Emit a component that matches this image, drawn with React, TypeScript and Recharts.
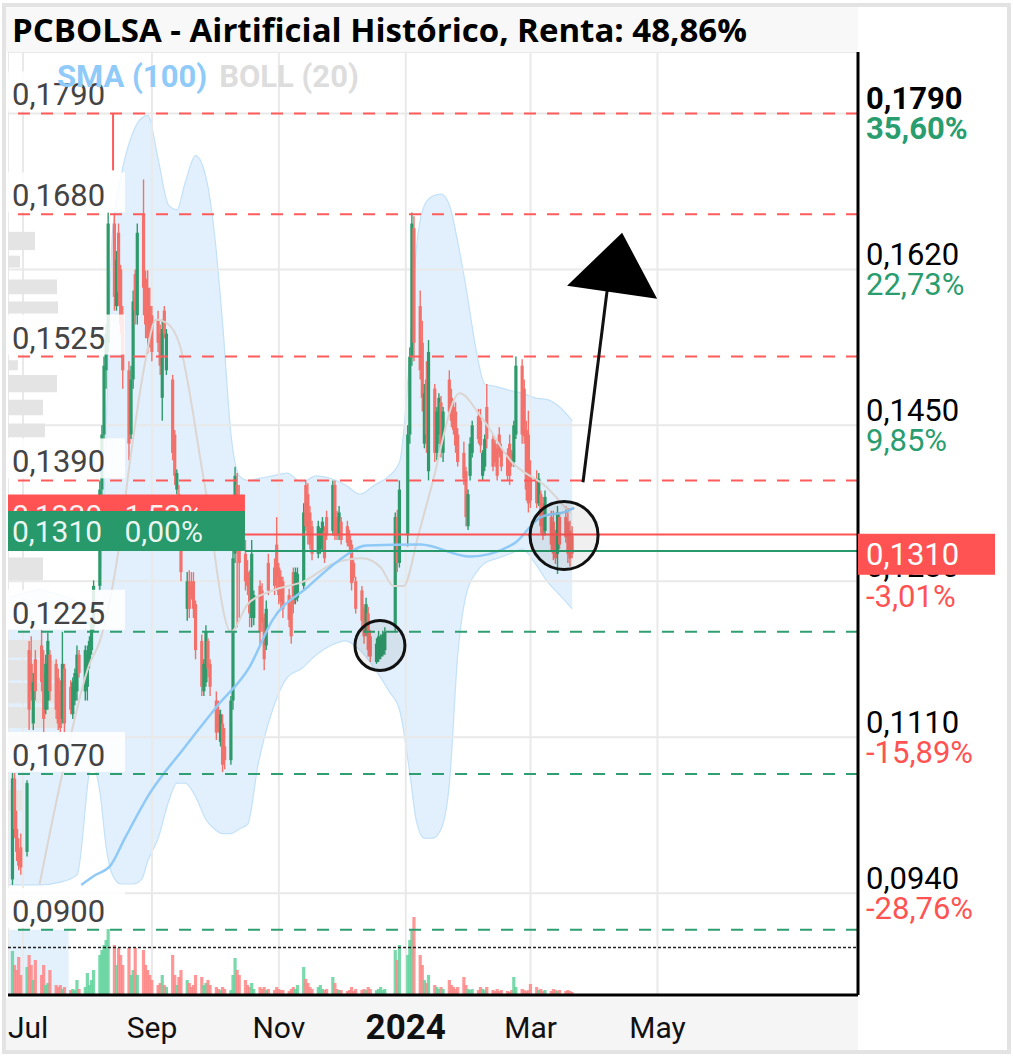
import React from 'react';
import {
  ComposedChart,
  Area,
  Line,
  Bar,
  XAxis,
  YAxis,
  CartesianGrid,
  ReferenceLine,
  ReferenceArea,
  ReferenceDot,
} from 'recharts';

type Candle = [number, number, number, number, number]; // open, high, low, close, volume (M)

const jun23: Candle[] = [
  [0.0955, 0.1071, 0.0949, 0.1065, 4.4],
  [0.1065, 0.1071, 0.1, 0.101, 3.0],
  [0.101, 0.103, 0.0975, 0.0985, 2.5],
  [0.0985, 0.1, 0.0965, 0.097, 3.8],
  [0.099, 0.1005, 0.096, 0.0968, 2.0],
];
const jul23: Candle[] = [
  [0.0985, 0.1063, 0.098, 0.106, 2.8],
  [0.1205, 0.1215, 0.1118, 0.114, 4.0],
  [0.119, 0.122, 0.115, 0.116, 3.0],
  [0.1125, 0.118, 0.1118, 0.117, 1.5],
  [0.1195, 0.1205, 0.115, 0.116, 3.5],
  [0.121, 0.1227, 0.116, 0.117, 2.0],
  [0.118, 0.1205, 0.1115, 0.113, 3.0],
  [0.114, 0.12, 0.1135, 0.119, 1.0],
  [0.115, 0.1224, 0.114, 0.1215, 1.2],
  [0.12, 0.1205, 0.115, 0.116, 2.5],
  [0.119, 0.1195, 0.113, 0.114, 1.0],
  [0.1175, 0.1185, 0.1118, 0.1125, 0.8],
  [0.116, 0.1172, 0.1115, 0.112, 1.0],
  [0.113, 0.1225, 0.1125, 0.119, 0.6],
  [0.1185, 0.119, 0.1115, 0.1125, 0.8],
  [0.1165, 0.1172, 0.1135, 0.114, 0.5],
  [0.1135, 0.1175, 0.113, 0.117, 0.6],
  [0.115, 0.1185, 0.1145, 0.118, 0.5],
  [0.116, 0.121, 0.115, 0.12, 1.5],
  [0.12, 0.1205, 0.1175, 0.118, 0.6],
  [0.116, 0.121, 0.115, 0.1205, 0.8],
];
const aug23: Candle[] = [
  [0.1165, 0.121, 0.115, 0.12, 2.2],
  [0.1195, 0.122, 0.1185, 0.1215, 1.0],
  [0.1205, 0.124, 0.12, 0.1235, 1.5],
  [0.123, 0.1281, 0.1225, 0.1275, 2.5],
  [0.1275, 0.139, 0.127, 0.138, 4.0],
  [0.138, 0.145, 0.137, 0.144, 4.5],
  [0.144, 0.1525, 0.1435, 0.1515, 5.0],
  [0.151, 0.156, 0.149, 0.155, 5.5],
  [0.154, 0.1682, 0.153, 0.167, 6.6],
  [0.167, 0.168, 0.1575, 0.159, 5.0],
  [0.158, 0.164, 0.1575, 0.163, 3.0],
  [0.166, 0.167, 0.158, 0.1595, 4.7],
  [0.162, 0.1625, 0.155, 0.156, 4.0],
  [0.157, 0.158, 0.149, 0.151, 3.0],
  [0.151, 0.152, 0.1412, 0.143, 4.7],
  [0.144, 0.1515, 0.1435, 0.15, 2.0],
  [0.15, 0.1597, 0.149, 0.1585, 2.5],
  [0.1615, 0.162, 0.156, 0.1575, 4.7],
  [0.157, 0.167, 0.156, 0.166, 2.0],
  [0.168, 0.1718, 0.157, 0.16, 4.5],
  [0.161, 0.1619, 0.1545, 0.156, 3.0],
  [0.16, 0.1619, 0.1528, 0.1545, 2.5],
  [0.158, 0.16, 0.1535, 0.1545, 2.0],
];
const sep23: Candle[] = [
  [0.157, 0.158, 0.152, 0.153, 1.5],
  [0.1565, 0.1575, 0.153, 0.154, 1.0],
  [0.155, 0.156, 0.1505, 0.1515, 1.2],
  [0.148, 0.1565, 0.1455, 0.1555, 2.0],
  [0.1575, 0.158, 0.1545, 0.155, 1.0],
  [0.151, 0.1555, 0.1505, 0.155, 0.8],
  [0.15, 0.1505, 0.1412, 0.142, 4.0],
  [0.144, 0.1445, 0.1385, 0.1395, 2.0],
  [0.138, 0.1402, 0.1375, 0.1398, 1.0],
  [0.1375, 0.1385, 0.132, 0.133, 1.8],
  [0.132, 0.1325, 0.128, 0.129, 2.5],
  [0.125, 0.129, 0.1237, 0.128, 1.5],
  [0.128, 0.1292, 0.124, 0.125, 1.2],
  [0.1275, 0.129, 0.126, 0.1265, 0.8],
  [0.128, 0.129, 0.124, 0.125, 1.0],
  [0.1255, 0.1259, 0.1195, 0.1205, 2.0],
  [0.1215, 0.1222, 0.1155, 0.1165, 1.8],
  [0.116, 0.1195, 0.1155, 0.119, 1.0],
  [0.117, 0.1232, 0.1165, 0.1225, 1.2],
  [0.1215, 0.1218, 0.1175, 0.1185, 1.5],
  [0.119, 0.1195, 0.1155, 0.1165, 1.0],
];
const oct23: Candle[] = [
  [0.115, 0.116, 0.1107, 0.1115, 0.8],
  [0.114, 0.115, 0.1115, 0.112, 0.6],
  [0.1105, 0.114, 0.11, 0.1135, 0.5],
  [0.1125, 0.1135, 0.1072, 0.108, 0.8],
  [0.11, 0.112, 0.1075, 0.1085, 0.6],
  [0.1085, 0.1155, 0.108, 0.115, 0.5],
  [0.115, 0.1314, 0.114, 0.1305, 2.0],
  [0.131, 0.1405, 0.13, 0.1395, 3.7],
  [0.1385, 0.1398, 0.123, 0.132, 2.5],
  [0.135, 0.1385, 0.124, 0.13, 2.0],
  [0.131, 0.1325, 0.127, 0.128, 1.5],
  [0.129, 0.1303, 0.1265, 0.1275, 1.0],
  [0.1285, 0.1292, 0.123, 0.1245, 0.8],
  [0.124, 0.1325, 0.123, 0.131, 1.2],
  [0.124, 0.127, 0.1232, 0.1265, 0.6],
  [0.1275, 0.1281, 0.121, 0.1225, 0.8],
  [0.127, 0.1278, 0.1225, 0.1235, 0.6],
  [0.124, 0.1245, 0.1183, 0.1195, 0.8],
  [0.121, 0.1259, 0.1205, 0.125, 0.5],
  [0.13, 0.131, 0.1265, 0.127, 0.6],
  [0.1295, 0.1305, 0.1265, 0.1275, 0.5],
  [0.132, 0.135, 0.127, 0.1285, 0.8],
];
const nov23: Candle[] = [
  [0.1295, 0.13, 0.1255, 0.1265, 0.6],
  [0.1285, 0.1292, 0.125, 0.1258, 0.5],
  [0.128, 0.1285, 0.124, 0.125, 0.5],
  [0.1265, 0.1272, 0.123, 0.1238, 0.4],
  [0.1255, 0.1259, 0.1212, 0.122, 0.6],
  [0.129, 0.1295, 0.1245, 0.1255, 0.8],
  [0.126, 0.1295, 0.1255, 0.129, 0.6],
  [0.1262, 0.1295, 0.1258, 0.1288, 1.0],
  [0.1275, 0.1365, 0.127, 0.1355, 2.8],
  [0.1385, 0.139, 0.1335, 0.134, 1.6],
  [0.1375, 0.1387, 0.132, 0.133, 1.2],
  [0.1355, 0.1362, 0.1315, 0.132, 0.8],
  [0.134, 0.1346, 0.1303, 0.131, 0.6],
  [0.131, 0.1346, 0.1305, 0.134, 0.8],
  [0.1315, 0.1338, 0.131, 0.1335, 1.0],
  [0.1315, 0.135, 0.1312, 0.1345, 0.6],
  [0.1335, 0.134, 0.13, 0.1305, 0.5],
  [0.135, 0.1357, 0.1325, 0.133, 0.6],
  [0.1335, 0.139, 0.133, 0.1385, 1.8],
  [0.1385, 0.139, 0.1325, 0.133, 1.2],
  [0.135, 0.1357, 0.1325, 0.133, 0.6],
  [0.133, 0.1362, 0.1325, 0.1355, 0.5],
];
const dec23: Candle[] = [
  [0.1345, 0.135, 0.132, 0.1325, 0.5],
  [0.134, 0.1346, 0.1318, 0.1322, 0.4],
  [0.133, 0.1336, 0.1312, 0.1318, 0.5],
  [0.132, 0.1325, 0.127, 0.1278, 0.8],
  [0.13, 0.1303, 0.128, 0.1284, 0.4],
  [0.128, 0.1285, 0.1245, 0.125, 0.6],
  [0.127, 0.1275, 0.123, 0.1237, 0.5],
  [0.125, 0.1255, 0.1212, 0.122, 0.6],
  [0.1225, 0.1262, 0.122, 0.1255, 0.5],
  [0.1245, 0.1252, 0.1198, 0.1205, 0.8],
  [0.122, 0.1227, 0.1192, 0.1198, 0.6],
  [0.1192, 0.1218, 0.119, 0.1212, 0.5],
  [0.1195, 0.1226, 0.1192, 0.122, 0.6],
  [0.1198, 0.1222, 0.1195, 0.1218, 0.8],
  [0.12, 0.1226, 0.1198, 0.1222, 0.5],
  [0.1205, 0.123, 0.12, 0.1225, 0.6],
  [0.123, 0.1355, 0.1225, 0.135, 4.5],
  [0.135, 0.1358, 0.129, 0.13, 3.5],
  [0.13, 0.139, 0.1295, 0.138, 5.0],
];
const jan24: Candle[] = [
  [0.133, 0.145, 0.1318, 0.144, 4.0],
  [0.144, 0.1535, 0.143, 0.1525, 5.5],
  [0.1525, 0.1682, 0.1515, 0.167, 6.5],
  [0.1665, 0.1678, 0.152, 0.154, 7.8],
  [0.158, 0.1597, 0.15, 0.151, 4.0],
  [0.154, 0.1564, 0.1465, 0.148, 3.0],
  [0.143, 0.1495, 0.1425, 0.1485, 1.5],
  [0.15, 0.152, 0.142, 0.144, 1.2],
  [0.14, 0.1543, 0.139, 0.153, 2.0],
  [0.149, 0.1495, 0.141, 0.142, 1.0],
  [0.142, 0.147, 0.1412, 0.1465, 0.8],
  [0.144, 0.1485, 0.143, 0.148, 0.6],
  [0.1475, 0.1482, 0.1415, 0.1422, 0.8],
  [0.142, 0.147, 0.141, 0.1465, 0.6],
  [0.15, 0.151, 0.146, 0.1465, 1.5],
  [0.148, 0.149, 0.1448, 0.1455, 1.0],
  [0.147, 0.1477, 0.144, 0.1445, 0.8],
  [0.1465, 0.1475, 0.142, 0.1428, 0.6],
  [0.144, 0.1447, 0.1405, 0.141, 0.8],
  [0.142, 0.1432, 0.1385, 0.1392, 1.8],
  [0.14, 0.1405, 0.134, 0.135, 1.0],
  [0.134, 0.138, 0.1336, 0.1375, 0.6],
];
const feb24: Candle[] = [
  [0.1395, 0.1437, 0.139, 0.143, 0.5],
  [0.142, 0.1455, 0.1415, 0.145, 0.6],
  [0.146, 0.1468, 0.143, 0.1435, 0.5],
  [0.1455, 0.1468, 0.142, 0.1428, 0.8],
  [0.1395, 0.1423, 0.139, 0.142, 0.6],
  [0.1405, 0.144, 0.14, 0.1435, 0.5],
  [0.147, 0.1495, 0.1425, 0.1435, 0.8],
  [0.1435, 0.144, 0.14, 0.1405, 0.5],
  [0.143, 0.1434, 0.1405, 0.141, 0.4],
  [0.1425, 0.143, 0.139, 0.1395, 0.6],
  [0.144, 0.1448, 0.1415, 0.142, 0.4],
  [0.1425, 0.143, 0.14, 0.1405, 0.5],
  [0.142, 0.1425, 0.139, 0.1395, 0.4],
  [0.143, 0.144, 0.1385, 0.1395, 0.3],
  [0.142, 0.1423, 0.1405, 0.141, 0.5],
  [0.141, 0.1455, 0.1405, 0.145, 1.8],
  [0.144, 0.1525, 0.1435, 0.1515, 0.8],
  [0.1515, 0.1522, 0.143, 0.144, 0.6],
  [0.149, 0.15, 0.143, 0.1438, 0.5],
  [0.1445, 0.1455, 0.1368, 0.138, 0.4],
  [0.144, 0.1466, 0.1355, 0.1365, 0.5],
];
const mar24: Candle[] = [
  [0.1395, 0.1412, 0.136, 0.1368, 1.1],
  [0.139, 0.1401, 0.136, 0.1365, 0.8],
  [0.1365, 0.1398, 0.1362, 0.1392, 0.5],
  [0.1375, 0.1379, 0.1332, 0.134, 0.6],
  [0.1365, 0.1372, 0.1325, 0.133, 0.4],
  [0.1335, 0.1379, 0.133, 0.1372, 0.5],
  [0.135, 0.1357, 0.1314, 0.132, 0.4],
  [0.1345, 0.1357, 0.1303, 0.131, 0.6],
  [0.133, 0.1336, 0.1299, 0.1305, 0.5],
  [0.131, 0.1362, 0.1288, 0.1355, 0.4],
  [0.135, 0.1355, 0.1315, 0.132, 0.5],
  [0.135, 0.1362, 0.1322, 0.1328, 0.4],
  [0.1345, 0.136, 0.13, 0.131, 0.5],
  [0.1335, 0.1346, 0.1296, 0.1305, 0.4],
  [0.133, 0.134, 0.1305, 0.131, 0.3],
];

// Bollinger (20): [day since 1 Jul 2023, upper, lower]
const bollBand: [number, number, number][] = [
  [-7, 0.1262, 0.0949], [8, 0.127, 0.0949], [18, 0.1265, 0.0952], [26, 0.1258, 0.096],
  [33, 0.125, 0.108], [37, 0.128, 0.105], [40, 0.145, 0.099], [43, 0.166, 0.096],
  [47, 0.172, 0.095], [53, 0.177, 0.095], [57, 0.1785, 0.0955], [60, 0.1788, 0.0975],
  [65, 0.174, 0.1], [70, 0.169, 0.104], [74, 0.1685, 0.106], [78, 0.1715, 0.106],
  [83, 0.1744, 0.1045], [88, 0.172, 0.102], [92, 0.166, 0.101], [96, 0.156, 0.1005],
  [100, 0.144, 0.1005], [104, 0.1395, 0.101], [108, 0.139, 0.1015], [113, 0.1392, 0.108],
  [120, 0.1395, 0.114], [127, 0.1398, 0.1175], [134, 0.1388, 0.1185], [141, 0.1395, 0.12],
  [148, 0.1392, 0.121], [155, 0.1385, 0.1215], [162, 0.1375, 0.1205], [169, 0.1385, 0.1185],
  [176, 0.1395, 0.116], [181, 0.141, 0.114], [186, 0.153, 0.107], [189, 0.164, 0.102],
  [193, 0.169, 0.1], [197, 0.17, 0.1], [201, 0.1702, 0.101], [205, 0.169, 0.106],
  [209, 0.165, 0.12], [213, 0.16, 0.1265], [218, 0.153, 0.129], [222, 0.1495, 0.13],
  [228, 0.1492, 0.1305], [234, 0.1488, 0.131], [240, 0.1485, 0.1315], [246, 0.148, 0.13],
  [252, 0.1478, 0.128], [258, 0.147, 0.1265], [264, 0.1455, 0.125],
];
const bollMid: [number, number][] = [
  [8, 0.095], [19, 0.1071], [32, 0.119], [37, 0.1215], [45, 0.13], [52, 0.142], [58, 0.151],
  [64, 0.1565], [70, 0.156], [75, 0.154], [87, 0.139], [100, 0.1225], [108, 0.1255],
  [120, 0.127], [135, 0.128], [150, 0.13], [163, 0.1305], [172, 0.1295], [178, 0.1275],
  [183, 0.1275], [190, 0.133], [196, 0.138], [210, 0.1485], [220, 0.146], [235, 0.141],
  [252, 0.1382], [263, 0.1354],
];
const sma100: [number, number][] = [
  [28, 0.0949], [35, 0.096], [42, 0.097], [49, 0.1], [61, 0.1049], [77, 0.1097], [93, 0.1143],
  [109, 0.1187], [120, 0.1238], [137, 0.1274], [152, 0.1303], [165, 0.1319], [191, 0.132],
  [215, 0.1307], [236, 0.1321], [249, 0.135], [261, 0.1356], [265, 0.136],
];

// volume by price on the left: [low, high, volume]
const profileBars: [number, number, number][] = [
  [0.1641, 0.1661, 27], [0.1622, 0.1635, 12], [0.1593, 0.1609, 49], [0.1572, 0.1585, 50],
  [0.151, 0.1521, 10], [0.1486, 0.1505, 49], [0.1461, 0.1478, 35], [0.1437, 0.1452, 37],
  [0.1281, 0.1306, 35], [0.1197, 0.1216, 34], [0.1172, 0.1194, 47], [0.1147, 0.1169, 52],
  [0.112, 0.1143, 57], [0.1096, 0.1112, 22], [0.103, 0.1052, 14],
];

const monthTicks = [0, 62, 123, 184, 244, 305];
const monthLabels = ['Jul', 'Sep', 'Nov', '2024', 'Mar', 'May'];

const priceTicks = [0.094, 0.111, 0.128, 0.145, 0.162, 0.179];
const priceTickLabels = ['0,0940', '0,1110', '0,1280', '0,1450', '0,1620', '0,1790'];
const pctTickLabels = ['-28,76%', '-15,89%', '-3,01%', '9,85%', '22,73%', '35,60%'];

const resistances = [0.179, 0.168, 0.1525, 0.139];
const resistanceLabels = ['0,1790', '0,1680', '0,1525', '0,1390'];
const supports = [0.1225, 0.107, 0.09];
const supportLabels = ['0,1225', '0,1070', '0,0900'];

const priceLineValues = [0.1331, 0.1313];
const priceLineTexts = ['0,1330   1,53%', '0,1310   0,00%'];
const priceLineStart = 106.7;
const lastPrice = 0.131;
const lastPriceText = '0,1310';

const circles: [number, number, number][] = [
  [260.1, 0.133, 34],
  [171.6, 0.121, 25],
];
const arrowShaft: [number, number][] = [
  [269.2, 0.1388],
  [280.8, 0.1597],
];
const arrowTip: [number, number] = [288, 0.166];

const X_MIN = -7.2;
const X_MAX = 401.4;
const Y_MIN = 0.0829;
const Y_MAX = 0.1857;
const VOL_MAX = 94.3;
const PROFILE_SCALE = (X_MAX - X_MIN) / 850;

const RED = '#f2716b';
const GREEN = '#2e9a6b';
const VOL_RED = '#ff8585';
const VOL_GREEN = '#62d29c';
const LEVEL_RED = '#ff5b5b';
const LEVEL_GREEN = '#2f9e70';
const TXT_RED = '#ff5252';
const TXT_GREEN = '#2a9d6f';

const HOLIDAYS = ['2023-12-25', '2023-12-26', '2024-01-01'];
const DAY_MS = 86400000;
const JUL1 = Date.UTC(2023, 6, 1);

const candles: Candle[] = [...jun23, ...jul23, ...aug23, ...sep23, ...oct23, ...nov23, ...dec23, ...jan24, ...feb24, ...mar24];
const candleDays: number[] = [];
for (let t = Date.UTC(2023, 5, 26); candleDays.length < candles.length; t += DAY_MS) {
  const d = new Date(t);
  const wd = d.getUTCDay();
  if (wd === 0 || wd === 6 || HOLIDAYS.includes(d.toISOString().slice(0, 10))) continue;
  candleDays.push(Math.round((t - JUL1) / DAY_MS));
}

type Row = { day: number; o?: number; h?: number; l?: number; c?: number; v?: number; bm?: number; sma?: number };
const rowMap = new Map<number, Row>();
const rowAt = (day: number) => {
  let r = rowMap.get(day);
  if (!r) {
    r = { day };
    rowMap.set(day, r);
  }
  return r;
};
candles.forEach(([o, h, l, c, v], i) => Object.assign(rowAt(candleDays[i]), { o, h, l, c, v }));
bollMid.forEach(([d, m]) => {
  rowAt(d).bm = m;
});
sma100.forEach(([d, s]) => {
  rowAt(d).sma = s;
});
const rows = [...rowMap.values()].sort((a, b) => a.day - b.day);
const bandRows = bollBand.map(([day, up, lo]) => ({ day, range: [lo, up] }));

const CandleShape = (props: any) => {
  const { x, y, width, height, payload } = props;
  if (!payload || payload.o == null || !isFinite(y) || !isFinite(height)) return <g />;
  const top = Math.min(y, y + height);
  const span = Math.abs(height);
  const { o, h, l, c } = payload;
  const k = h > l ? span / (h - l) : 0;
  const yo = top + (h - o) * k;
  const yc = top + (h - c) * k;
  const col = c >= o ? GREEN : RED;
  const cx = x + width / 2;
  return (
    <g>
      <line x1={cx} x2={cx} y1={top} y2={top + span} stroke={col} strokeWidth={1.4} />
      <rect x={cx - 1.6} y={Math.min(yo, yc)} width={3.2} height={Math.max(Math.abs(yc - yo), 1.5)} fill={col} />
    </g>
  );
};

const VolumeShape = (props: any) => {
  const { x, y, width, height, payload } = props;
  if (!payload || payload.v == null || !isFinite(y) || !isFinite(height)) return <g />;
  const cx = x + width / 2;
  const top = Math.min(y, y + height);
  return (
    <rect
      x={cx - 1.6}
      y={top}
      width={3.2}
      height={Math.abs(height)}
      fill={payload.c >= payload.o ? VOL_GREEN : VOL_RED}
      fillOpacity={0.85}
    />
  );
};

const RightTick = (props: any) => {
  const { x, y, payload } = props;
  const i = priceTicks.findIndex((t) => Math.abs(t - payload.value) < 1e-7);
  if (i < 0) return <g />;
  const bold = i === priceTicks.length - 1;
  const pct = pctTickLabels[i];
  return (
    <g>
      <text x={x} y={y - 15} dominantBaseline="central" fontSize={31} fontWeight={bold ? 700 : 400} fill="#000">
        {priceTickLabels[i]}
      </text>
      <text
        x={x}
        y={y + 15}
        dominantBaseline="central"
        fontSize={31}
        fontWeight={bold ? 700 : 400}
        fill={pct.startsWith('-') ? TXT_RED : TXT_GREEN}
      >
        {pct}
      </text>
    </g>
  );
};

const MonthTick = (props: any) => {
  const { x, y, payload } = props;
  const idx = monthTicks.indexOf(payload.value);
  const label = monthLabels[idx] ?? '';
  const bold = label === '2024';
  const first = idx === 0;
  return (
    <text
      x={first ? x - 15 : x}
      y={y + 24}
      textAnchor={first ? 'start' : 'middle'}
      dominantBaseline="central"
      fontSize={bold ? 35 : 30}
      fontWeight={bold ? 700 : 400}
      fill="#111"
    >
      {label}
    </text>
  );
};

const levelLabel = (text: string) => (props: any) => {
  const vb = props.viewBox || {};
  const x = vb.x ?? 0;
  const y = vb.y ?? 0;
  return (
    <g>
      <rect x={x} y={y - 42} width={117} height={40} fill="#fff" fillOpacity={0.85} />
      <text x={x + 4} y={y - 8} fontSize={31} fill="#444">
        {text}
      </text>
    </g>
  );
};

const priceLineLabel = (text: string, color: string) => (props: any) => {
  const vb = props.viewBox || {};
  const x = vb.x ?? 0;
  const y = vb.y ?? 0;
  return (
    <g>
      <rect x={x - 237} y={y - 40} width={237} height={40} fill={color} />
      <text x={x - 233} y={y - 9} fontSize={30} fill="#fff" fillOpacity={0.92} style={{ whiteSpace: 'pre' }}>
        {text}
      </text>
    </g>
  );
};

const lastPriceLabel = (props: any) => {
  const vb = props.viewBox || {};
  const x = (vb.x ?? 0) + (vb.width ?? 0);
  const y = vb.y ?? 0;
  return (
    <g>
      <rect x={x} y={y - 20} width={137} height={41} fill="#ff5252" />
      <text x={x + 8} y={y + 1} dominantBaseline="central" fontSize={31} fill="#fff">
        {lastPriceText}
      </text>
    </g>
  );
};

const ArrowHead = (p: any) => (
  <polygon points={`${p.cx},${p.cy} ${p.cx - 55},${p.cy + 53} ${p.cx + 35},${p.cy + 66}`} fill="#000" />
);

export default function App() {
  return (
    <div
      style={{
        position: 'absolute',
        left: 0,
        top: 0,
        width: 1013,
        height: 1058,
        background: '#fff',
        overflow: 'hidden',
        fontFamily: 'Roboto, sans-serif',
      }}
    >
      <div
        style={{
          position: 'absolute',
          left: 2,
          top: 3,
          width: 1009,
          height: 1051,
          border: '4px solid #e3e3e3',
          boxSizing: 'border-box',
        }}
      />
      <div style={{ position: 'absolute', left: 6, top: 7, width: 852, height: 45, background: '#f8f8f8' }} />
      <div
        style={{
          position: 'absolute',
          left: 12,
          top: 7,
          height: 45,
          lineHeight: '45px',
          fontFamily: '"Open Sans", sans-serif',
          fontWeight: 700,
          fontSize: 33,
          color: '#000',
          whiteSpace: 'nowrap',
        }}
      >
        PCBOLSA - Airtificial Histórico, Renta: 48,86%
      </div>
      <div style={{ position: 'absolute', left: 6, top: 998, width: 852, height: 52, background: '#f5f5f5' }} />

      <div style={{ position: 'absolute', left: 8, top: 52 }}>
        <ComposedChart width={850} height={943} data={bandRows} margin={{ top: 0, right: 0, bottom: 0, left: 0 }}>
          <XAxis type="number" dataKey="day" domain={[X_MIN, X_MAX]} allowDataOverflow hide />
          <YAxis type="number" domain={[Y_MIN, Y_MAX]} allowDataOverflow hide />
          <ReferenceArea x1={X_MIN} x2={22} y1={Y_MIN} y2={0.09} fill="#dcedfb" fillOpacity={0.8} stroke="none" />
          <Area
            dataKey="range"
            type="monotone"
            fill="#d9ecfb"
            fillOpacity={0.8}
            stroke="#c3e1f8"
            strokeWidth={1.2}
            isAnimationActive={false}
          />
        </ComposedChart>
      </div>

      <div style={{ position: 'absolute', left: 8, top: 52 }}>
        <ComposedChart width={997} height={998} data={rows} margin={{ top: 0, right: 0, bottom: 0, left: 0 }}>
          <XAxis
            dataKey="day"
            type="number"
            domain={[X_MIN, X_MAX]}
            allowDataOverflow
            ticks={monthTicks}
            interval={0}
            height={55}
            tickLine={false}
            axisLine={{ stroke: '#000', strokeWidth: 3 }}
            tick={MonthTick}
          />
          <XAxis xAxisId="v" dataKey="day" type="number" domain={[X_MIN, X_MAX]} allowDataOverflow hide />
          <YAxis
            orientation="right"
            type="number"
            width={147}
            domain={[Y_MIN, Y_MAX]}
            allowDataOverflow
            ticks={priceTicks}
            interval={0}
            tickLine={false}
            axisLine={{ stroke: '#000', strokeWidth: 3 }}
            tick={RightTick}
          />
          <YAxis yAxisId="v" type="number" domain={[0, VOL_MAX]} allowDataOverflow hide />
          <CartesianGrid stroke="#e9e9e9" strokeWidth={2} />

          {profileBars.map(([lo, hi, vol], i) => (
            <ReferenceArea
              key={'p' + i}
              x1={X_MIN}
              x2={X_MIN + vol * PROFILE_SCALE}
              y1={lo}
              y2={hi}
              fill="#e4e4e4"
              fillOpacity={1}
              stroke="none"
            />
          ))}

          <Line dataKey="bm" type="monotone" connectNulls dot={false} stroke="#dcd5d2" strokeWidth={2} isAnimationActive={false} />
          <Line dataKey="sma" type="monotone" connectNulls dot={false} stroke="#8fc9f7" strokeWidth={2.5} isAnimationActive={false} />

          <Bar
            dataKey={(r: Row) => (r.o != null ? [r.l, r.h] : null)}
            barSize={3}
            shape={CandleShape}
            isAnimationActive={false}
          />
          <Bar xAxisId="v" yAxisId="v" dataKey="v" barSize={3} shape={VolumeShape} isAnimationActive={false} />
          <ReferenceLine xAxisId="v" yAxisId="v" y={4.75} stroke="#222" strokeWidth={1.6} strokeDasharray="3 2" />

          <ReferenceLine
            segment={[
              { x: 43.3, y: 0.179 },
              { x: 43.3, y: 0.1728 },
            ]}
            stroke={LEVEL_RED}
            strokeWidth={2}
          />
          {resistances.map((v, i) => (
            <ReferenceLine
              key={'r' + i}
              y={v}
              stroke={LEVEL_RED}
              strokeWidth={2}
              strokeDasharray="12 11"
              label={levelLabel(resistanceLabels[i])}
            />
          ))}
          {supports.map((v, i) => (
            <ReferenceLine
              key={'s' + i}
              y={v}
              stroke={LEVEL_GREEN}
              strokeWidth={2}
              strokeDasharray="12 11"
              label={levelLabel(supportLabels[i])}
            />
          ))}
          {priceLineValues.map((v, i) => (
            <ReferenceLine
              key={'l' + i}
              segment={[
                { x: priceLineStart, y: v },
                { x: X_MAX, y: v },
              ]}
              stroke={i === 0 ? '#ff5252' : '#27996a'}
              strokeWidth={2}
              label={priceLineLabel(priceLineTexts[i], i === 0 ? '#ff5252' : '#27996a')}
            />
          ))}

          {circles.map(([d, p, r], i) => (
            <ReferenceDot key={'c' + i} x={d} y={p} r={r} fill="rgba(0,0,0,0.06)" stroke="#111" strokeWidth={3} />
          ))}
          <ReferenceLine
            segment={arrowShaft.map(([x, y]) => ({ x, y }))}
            stroke="#111"
            strokeWidth={3}
            ifOverflow="visible"
          />
          <ReferenceDot x={arrowTip[0]} y={arrowTip[1]} r={2} shape={ArrowHead} />
        </ComposedChart>
      </div>

      {/* last price marker, drawn above the right axis labels */}
      <div style={{ position: 'absolute', left: 8, top: 52 }}>
        <ComposedChart width={997} height={998} data={bandRows} margin={{ top: 0, right: 147, bottom: 55, left: 0 }}>
          <XAxis type="number" dataKey="day" domain={[X_MIN, X_MAX]} allowDataOverflow hide />
          <YAxis type="number" domain={[Y_MIN, Y_MAX]} allowDataOverflow hide />
          <ReferenceLine y={lastPrice} stroke="none" strokeOpacity={0} label={lastPriceLabel} />
        </ComposedChart>
      </div>

      <div
        style={{
          position: 'absolute',
          left: 57,
          top: 58,
          lineHeight: '38px',
          fontSize: 31,
          fontWeight: 700,
          whiteSpace: 'nowrap',
        }}
      >
        <span style={{ color: '#90caf9' }}>SMA (100)</span>
        <span style={{ color: '#dddddd', marginLeft: 12 }}>BOLL (20)</span>
      </div>
    </div>
  );
}
